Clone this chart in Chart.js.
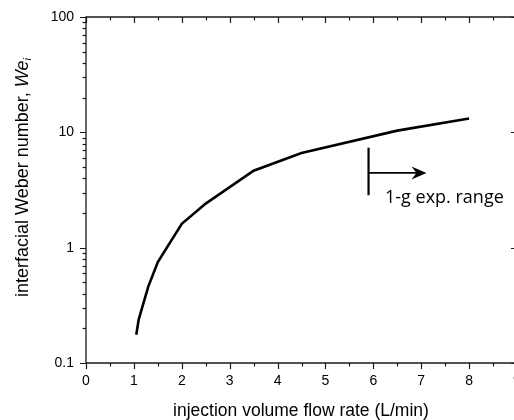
<!DOCTYPE html>
<html>
<head>
<meta charset="utf-8">
<script src="https://cdn.jsdelivr.net/npm/chart.js@4/dist/chart.umd.min.js"></script>
<style>
  html, body { margin: 0; padding: 0; background: #fff; overflow: hidden; }
  #wrap { width: 514px; height: 420px; overflow: hidden; position: relative; }
  canvas { display: block; }
</style>
</head>
<body>
<div id="wrap"><canvas id="c" width="520" height="420"></canvas></div>
<script>
// ---- data ----
const flowRate = [1.05, 1.1, 1.3, 1.5, 2.0, 2.5, 3.5, 4.5, 6.5, 8.0];          // L/min
const weberNumber = [0.176, 0.238, 0.46, 0.75, 1.61, 2.41, 4.65, 6.63, 10.35, 13.2];
const xTickLabels = [0, 1, 2, 3, 4, 5, 6, 7, 8, 9];
const yTickLabels = [0.1, 1, 10, 100];
// annotation "1-g exp. range": vertical bar at x, from y0 to y1; arrow at yArrow to xArrowEnd
const rangeBarX = [5.9];
const rangeBarY = [2.85, 7.36];
const rangeArrow = [5.9, 7.11, 4.45]; // xStart, xEnd, y
const rangeLabel = ['1-g exp. range'];

const AX = '#1a1a1a';
const FONT = '"Liberation Sans", Arial, sans-serif';
const TITLE_PX = 17.5;
const YTITLE_PX = 18;

const framePlugin = {
  id: 'frame',
  afterDraw(chart) {
    const ctx = chart.ctx;
    const xs = chart.scales.x, ys = chart.scales.y;
    const a = chart.chartArea;
    ctx.save();
    ctx.strokeStyle = AX;
    ctx.lineWidth = 1.3;
    ctx.beginPath();
    ctx.moveTo(a.left, a.bottom); ctx.lineTo(a.left, a.top); ctx.lineTo(a.right, a.top); ctx.lineTo(a.right, a.bottom); ctx.lineTo(a.left, a.bottom);
    ctx.stroke();
    ctx.lineWidth = 1.2;
    for (let i = 0; i <= 18; i++) {
      const v = i / 2;
      const px = Math.round(xs.getPixelForValue(v)) + 0.5;
      const major = i % 2 === 0;
      const l = major ? 6 : 3.5;
      ctx.beginPath();
      ctx.moveTo(px, a.bottom); ctx.lineTo(px, a.bottom + l);
      ctx.moveTo(px, a.top); ctx.lineTo(px, a.top + l);
      ctx.stroke();
    }
    for (let d = -1; d <= 2; d++) {
      const base = Math.pow(10, d);
      const py = Math.round(ys.getPixelForValue(base)) + 0.5;
      ctx.beginPath();
      ctx.moveTo(a.left, py); ctx.lineTo(a.left - 6, py);
      ctx.moveTo(a.right, py); ctx.lineTo(a.right - 6, py);
      ctx.stroke();
      if (d < 2) {
        for (let m = 2; m <= 9; m++) {
          const pm = Math.round(ys.getPixelForValue(base * m)) + 0.5;
          ctx.beginPath();
          ctx.moveTo(a.left, pm); ctx.lineTo(a.left - 3.5, pm);
          ctx.stroke();
        }
      }
    }
    ctx.fillStyle = '#000';
    ctx.font = TITLE_PX + 'px ' + FONT;
    ctx.textAlign = 'center';
    ctx.textBaseline = 'alphabetic';
    ctx.fillText('injection volume flow rate (L/min)', 301, 416);
    const p1 = 'interfacial Weber number, ';
    const p2 = 'We';
    const p3 = 'i';
    ctx.font = YTITLE_PX + 'px ' + FONT;
    const w1 = ctx.measureText(p1).width;
    ctx.font = 'italic ' + YTITLE_PX + 'px ' + FONT;
    const w2 = ctx.measureText(p2).width;
    // text starts at y = 297 and runs upward
    ctx.translate(28, 297);
    ctx.rotate(-Math.PI / 2);
    ctx.textAlign = 'left';
    ctx.font = YTITLE_PX + 'px ' + FONT;
    ctx.fillText(p1, 0, 0);
    ctx.font = 'italic ' + YTITLE_PX + 'px ' + FONT;
    ctx.fillText(p2, w1, 0);
    ctx.font = 'italic 11px ' + FONT;
    ctx.fillText(p3, w1 + w2, 3);
    ctx.restore();

    ctx.save();
    ctx.strokeStyle = '#000';
    ctx.fillStyle = '#000';
    ctx.lineWidth = 2.2;
    const bx = xs.getPixelForValue(rangeBarX[0]);
    ctx.beginPath();
    ctx.moveTo(bx, ys.getPixelForValue(rangeBarY[0]));
    ctx.lineTo(bx, ys.getPixelForValue(rangeBarY[1]));
    ctx.stroke();
    const ax0 = xs.getPixelForValue(rangeArrow[0]);
    const ax1 = xs.getPixelForValue(rangeArrow[1]);
    const ay = ys.getPixelForValue(rangeArrow[2]);
    ctx.lineWidth = 1.6;
    ctx.beginPath();
    ctx.moveTo(ax0, ay); ctx.lineTo(ax1 - 8, ay);
    ctx.stroke();
    ctx.beginPath();
    ctx.moveTo(ax1, ay);
    ctx.lineTo(ax1 - 15, ay - 6.5);
    ctx.lineTo(ax1 - 10, ay);
    ctx.lineTo(ax1 - 15, ay + 6.5);
    ctx.closePath();
    ctx.fill();
    ctx.font = '18px "Open Sans", Lato, sans-serif';
    ctx.textAlign = 'left';
    ctx.textBaseline = 'alphabetic';
    ctx.fillText(rangeLabel[0], 385, 203);
    ctx.restore();
  }
};

new Chart(document.getElementById('c'), {
  type: 'line',
  data: {
    datasets: [{
      data: flowRate.map((x, i) => ({ x: x, y: weberNumber[i] })),
      borderColor: '#000',
      borderWidth: 2.6,
      pointRadius: 0,
      tension: 0,
      fill: false
    }]
  },
  options: {
    responsive: false,
    animation: false,
    devicePixelRatio: 1,
    layout: { padding: { left: 0, top: 17, right: 3, bottom: 0 } },
    plugins: { legend: { display: false }, tooltip: { enabled: false } },
    scales: {
      x: {
        type: 'linear',
        min: 0, max: 9,
        afterBuildTicks(s) { s.ticks = xTickLabels.map(v => ({ value: v })); },
        afterFit(s) { s.height = 57; s.paddingLeft = 0; s.paddingRight = 0; },
        grid: { display: false, drawTicks: false },
        border: { display: false },
        ticks: { color: '#000', font: { family: FONT, size: 14 }, padding: 10, maxRotation: 0, autoSkip: false }
      },
      y: {
        type: 'logarithmic',
        min: 0.1, max: 100,
        afterBuildTicks(s) { s.ticks = yTickLabels.map(v => ({ value: v })); },
        afterFit(s) { s.width = 86; s.paddingTop = 0; s.paddingBottom = 0; },
        grid: { display: false, drawTicks: false },
        border: { display: false },
        ticks: { color: '#000', font: { family: FONT, size: 14 }, padding: 12, autoSkip: false,
          callback: (v) => String(v) }
      }
    }
  },
  plugins: [framePlugin]
});
</script>
</body>
</html>
